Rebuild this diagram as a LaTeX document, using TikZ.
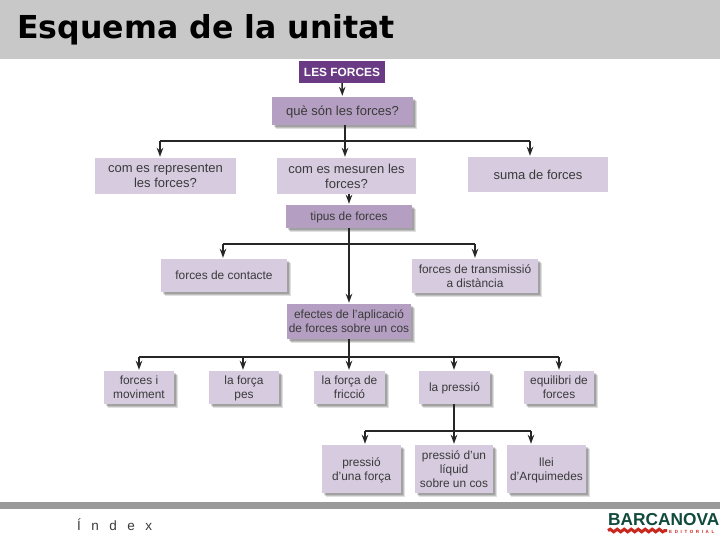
\documentclass[tikz,border=0pt]{standalone}
\usepackage{fontspec}
\setmainfont{Liberation Sans}
\newfontfamily\titlefont{DejaVu Sans}
\usetikzlibrary{arrows.meta,shadows,decorations.pathmorphing}
\definecolor{band}{HTML}{C8C8C8}
\definecolor{foot}{HTML}{9A9A9A}
\definecolor{deep}{HTML}{6B3A84}
\definecolor{mid}{HTML}{B49FC2}
\definecolor{pale}{HTML}{D6CBDF}
\definecolor{ink}{HTML}{3A3A3A}
\definecolor{logogreen}{HTML}{124A3C}
\definecolor{logored}{HTML}{C8281E}
\tikzset{
  x=1pt,y=-1pt,
  basebox/.style={rectangle,inner sep=0pt,align=center,text=ink,text depth=0pt,font=\fontsize{11.9}{14.2}\selectfont},
  softedge/.style={
    general shadow={fill=black,opacity=.12,shadow xshift=4pt,shadow yshift=-4pt},
    general shadow={fill=black,opacity=.14,shadow xshift=3pt,shadow yshift=-3pt},
    general shadow={fill=black,opacity=.16,shadow xshift=2pt,shadow yshift=-2pt}},
  flat/.style={basebox,fill=pale,font=\fontsize{13}{14.8}\selectfont},
  softpale/.style={basebox,softedge,fill=pale},
  softmid/.style={basebox,softedge,fill=mid},
  wire/.style={line width=1.5pt,draw=black!85},
  arr/.style={wire,-{Stealth[length=9pt,width=6.5pt]},shorten >=1pt},
}
\begin{document}
\begin{tikzpicture}
\useasboundingbox (0,0) rectangle (720,540);
\fill[white] (0,0) rectangle (720,540);
\fill[band] (0,0) rectangle (720,59);
\fill[foot] (0,502) rectangle (720,509);
\node[anchor=base west,inner sep=0pt,font=\titlefont\bfseries\fontsize{31.6}{34}\selectfont,text=black] (title) at (17,39) {Esquema de la unitat};
\node[anchor=base west,inner sep=0pt,font=\fontsize{13.5}{15}\selectfont,text=ink] (idx) at (77,530) {Í\hspace{10.5pt}n\hspace{10.5pt}d\hspace{10.5pt}e\hspace{10.5pt}x};

% boxes
\node[basebox,fill=deep,text=white,font=\bfseries\fontsize{11.9}{14}\selectfont,minimum width=86pt,minimum height=22pt] (root) at (342,72) {LES FORCES};
\node[softmid,minimum width=141pt,minimum height=28pt,font=\fontsize{13}{15}\selectfont] (que) at (342.5,111) {què són les forces?};
\node[flat,minimum width=141pt,minimum height=36pt] (repr) at (165.5,176) {com es representen\\les forces?};
\node[flat,minimum width=139pt,minimum height=36pt] (mes) at (346.5,176) {com es mesuren les\\forces?};
\node[flat,minimum width=140pt,minimum height=35pt] (suma) at (538,174.5) {suma de forces};
\node[softmid,minimum width=126pt,minimum height=23pt] (tip) at (349,216.5) {tipus de forces};
\node[softpale,minimum width=126pt,minimum height=33pt] (cont) at (224,275.5) {forces de contacte};
\node[softpale,minimum width=126pt,minimum height=34pt] (trans) at (475,276) {forces de transmissió\\a distància};
\node[softmid,minimum width=124pt,minimum height=35pt] (efe) at (349,321.5) {efectes de l'aplicació\\de forces sobre un cos};
\node[softpale,minimum width=70pt,minimum height=33pt] (mov) at (139,387.5) {forces i\\moviment};
\node[softpale,minimum width=70pt,minimum height=33pt] (pes) at (244,387.5) {la força\\pes};
\node[softpale,minimum width=71pt,minimum height=33pt] (fri) at (349.5,387.5) {la força de\\fricció};
\node[softpale,minimum width=71pt,minimum height=33pt] (pre) at (454.5,387.5) {la pressió};
\node[softpale,minimum width=70pt,minimum height=33pt] (equ) at (559,387.5) {equilibri de\\forces};
\node[softpale,minimum width=79pt,minimum height=48pt] (pf) at (361.5,469) {pressió\\d'una força};
\node[softpale,minimum width=78pt,minimum height=48pt] (pl) at (454,469) {pressió d'un\\líquid\\sobre un cos};
\node[softpale,minimum width=79pt,minimum height=48pt] (arq) at (546.5,469) {llei\\d'Arquimedes};

% junctions
\coordinate (j1) at (345,141);
\coordinate (d1a) at (160,141);
\coordinate (d1b) at (530,141);
\coordinate (j2) at (349,244);
\coordinate (d2a) at (223,244);
\coordinate (d2b) at (475,244);
\coordinate (j3) at (349,357);
\coordinate (d3a) at (139,357);
\coordinate (d3b) at (243,357);
\coordinate (d3c) at (454,357);
\coordinate (d3d) at (559,357);
\coordinate (j4) at (454,431);
\coordinate (d4a) at (365,431);
\coordinate (d4b) at (531,431);

% connectors
\draw[arr] (root) -- (que);
\draw[wire] (que.south -| j1) -- (j1);
\draw[wire] (d1a) -- (d1b);
\draw[arr] (d1a) -- (d1a |- repr.north);
\draw[arr] (j1) -- (j1 |- mes.north);
\draw[arr] (d1b) -- (d1b |- suma.north);
\draw[arr] (mes.south -| tip) -- (tip.north);
\draw[arr] (tip) -- (efe);
\draw[wire] (d2a) -- (d2b);
\draw[arr] (d2a) -- (d2a |- cont.north);
\draw[arr] (d2b) -- (d2b |- trans.north);
\draw[wire] (efe.south) -- (j3);
\draw[wire] (d3a) -- (d3d);
\draw[arr] (d3a) -- (d3a |- mov.north);
\draw[arr] (d3b) -- (d3b |- pes.north);
\draw[arr] (j3) -- (j3 |- fri.north);
\draw[arr] (d3c) -- (d3c |- pre.north);
\draw[arr] (d3d) -- (d3d |- equ.north);
\draw[wire] (pre.south -| j4) -- (j4);
\draw[wire] (d4a) -- (d4b);
\draw[arr] (d4a) -- (d4a |- pf.north);
\draw[arr] (j4) -- (j4 |- pl.north);
\draw[arr] (d4b) -- (d4b |- arq.north);

% logo
\node[anchor=base west,inner sep=0pt,text=logogreen,font=\bfseries\fontsize{17.3}{18}\selectfont] (logo) at (608,525.5) {BARCANOVA};
\draw[logored,line width=3pt,decorate,decoration={snake,segment length=7pt,amplitude=1.3pt}] (608,530.5) -- (667,530.5);
\node[anchor=base west,inner sep=0pt,text=logored,font=\bfseries\fontsize{4.5}{5}\selectfont] (ed) at (669,533) {E\hspace{2.6pt}D\hspace{2.6pt}I\hspace{2.6pt}T\hspace{2.6pt}O\hspace{2.6pt}R\hspace{2.6pt}I\hspace{2.6pt}A\hspace{2.6pt}L};
\end{tikzpicture}
\end{document}
